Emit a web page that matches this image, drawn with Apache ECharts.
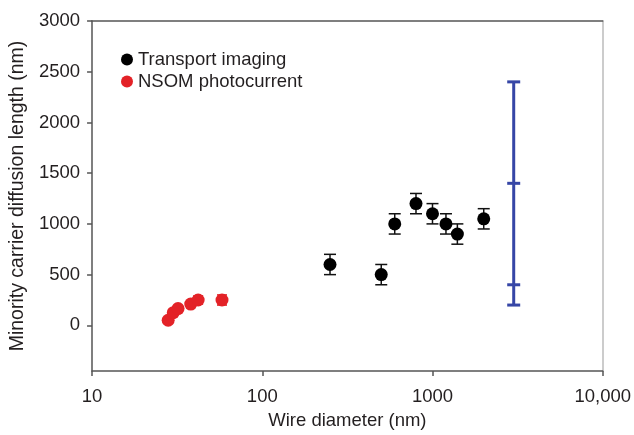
<!DOCTYPE html>
<html lang="en" style="width: 100%; height: 100%">
<head>
  <meta charset="utf-8">
  <script src="https://cdn.jsdelivr.net/npm/echarts@6/dist/echarts.min.js"></script>
</head>
<body style="margin: 0; width: 634px; height: 435px; background: #fff">
  <div id="container" style="width: 634px; height: 435px"></div>
  <script type="text/javascript">

// transport imaging (black)
var transportDiameter = [250, 500, 600, 800, 1000, 1200, 1400, 2000];
var transportLength   = [600, 500, 1000, 1200, 1100, 1000, 900, 1050];
var transportError    = [100, 100, 100, 100, 100, 100, 100, 100];

// NSOM photocurrent (red)
var nsomDiameter = [28, 30, 32, 38, 42, 58];
var nsomLength   = [50, 125, 165, 210, 250, 250];
var nsomError    = [0, 0, 0, 0, 40, 50];

// blue range bar
var rangeDiameter = 3000;
var rangeMarks = [200, 400, 1400, 2400];

var yTicks = [0, 500, 1000, 1500, 2000, 2500, 3000];

var FONT = '"Liberation Sans", Arial, sans-serif';
var TXT = '#231f20';
var AX = '#555';

var dom = document.getElementById('container');
var myChart = echarts.init(dom, null, { renderer: 'canvas' });

function points(xs, ys) {
  return xs.map(function (x, i) { return [x, ys[i]]; });
}
function errData(xs, ys, es) {
  var out = [];
  for (var i = 0; i < xs.length; i++) {
    if (es[i] > 0) out.push([xs[i], ys[i] - es[i], ys[i] + es[i]]);
  }
  return out;
}

function errRender(color, half, width) {
  return function (params, api) {
    var x = api.value(0);
    var lo = api.coord([x, api.value(1)]);
    var hi = api.coord([x, api.value(2)]);
    var st = { stroke: color, lineWidth: width };
    return {
      type: 'group',
      children: [
        { type: 'line', shape: { x1: lo[0], y1: lo[1], x2: hi[0], y2: hi[1] }, style: st },
        { type: 'line', shape: { x1: lo[0] - half, y1: lo[1], x2: lo[0] + half, y2: lo[1] }, style: st },
        { type: 'line', shape: { x1: hi[0] - half, y1: hi[1], x2: hi[0] + half, y2: hi[1] }, style: st }
      ]
    };
  };
}

var rangeData = [[rangeDiameter].concat(rangeMarks)];

var option = {
  animation: false,
  textStyle: { fontFamily: FONT },
  grid: { left: 91, right: 31, top: 21, bottom: 49 },
  legend: {
    left: 116,
    top: 45,
    orient: 'vertical',
    itemGap: 3,
    itemWidth: 12,
    itemHeight: 12,
    data: [
      { name: 'Transport imaging', icon: 'circle' },
      { name: 'NSOM photocurrent', icon: 'circle' }
    ],
    textStyle: { fontSize: 18.5, color: TXT, fontFamily: FONT }
  },
  xAxis: [{
    type: 'log',
    logBase: 10,
    min: 10,
    max: 10000,
    name: 'Wire diameter (nm)',
    nameLocation: 'middle',
    nameGap: 40,
    nameTextStyle: { fontSize: 18.5, color: TXT },
    axisLine: { onZero: false, lineStyle: { color: AX, width: 1.5 } },
    axisTick: { length: 5, lineStyle: { color: AX, width: 1.5 } },
    axisLabel: {
      fontSize: 18.5, color: TXT, margin: 16,
      formatter: function (v) { return v === 10000 ? '10,000' : String(v); }
    },
    splitLine: { show: false },
    minorTick: { show: false }
  }, {
    type: 'log',
    min: 10,
    max: 10000,
    position: 'top',
    axisLine: { onZero: false, lineStyle: { color: AX, width: 1.5 } },
    axisTick: { show: false },
    axisLabel: { show: false },
    splitLine: { show: false }
  }],
  yAxis: [{
    type: 'value',
    min: -450,
    max: 3000,
    name: 'Minority carrier diffusion length (nm)',
    nameLocation: 'middle',
    nameGap: 63,
    nameTextStyle: { fontSize: 19.5, color: TXT },
    axisLine: { show: true, onZero: false, lineStyle: { color: AX, width: 1.5 } },
    axisTick: { show: true, length: 5, customValues: yTicks, lineStyle: { color: AX, width: 1.5 } },
    axisLabel: {
      fontSize: 18.5, color: TXT, margin: 12, customValues: yTicks,
      formatter: function (v) { return String(v); }
    },
    splitLine: { show: false }
  }, {
    type: 'value',
    min: -450,
    max: 3000,
    position: 'right',
    axisLine: { show: true, onZero: false, lineStyle: { color: '#bbb', width: 1.5 } },
    axisTick: { show: false },
    axisLabel: { show: false },
    splitLine: { show: false }
  }],
  series: [
    {
      name: 'transport-err',
      type: 'custom',
      renderItem: errRender('#111', 6, 1.5),
      data: errData(transportDiameter, transportLength, transportError),
      encode: { x: 0, y: [1, 2] },
      z: 1
    },
    {
      name: 'nsom-err',
      type: 'custom',
      renderItem: errRender('#e32227', 5, 1.5),
      data: errData(nsomDiameter, nsomLength, nsomError),
      encode: { x: 0, y: [1, 2] },
      z: 1
    },
    {
      name: 'Transport imaging',
      type: 'scatter',
      symbol: 'circle',
      symbolSize: 13,
      itemStyle: { color: '#000', opacity: 1 },
      data: points(transportDiameter, transportLength),
      z: 3
    },
    {
      name: 'NSOM photocurrent',
      type: 'scatter',
      symbol: 'circle',
      symbolSize: 13,
      itemStyle: { color: '#e32227', opacity: 1 },
      data: points(nsomDiameter, nsomLength),
      z: 3
    },
    {
      name: 'range',
      type: 'custom',
      data: rangeData,
      encode: { x: 0, y: [1, 2, 3, 4] },
      renderItem: function (params, api) {
        var x = api.value(0);
        var st = { stroke: '#3646a6', lineWidth: 3 };
        var pts = [1, 2, 3, 4].map(function (k) { return api.coord([x, api.value(k)]); });
        var kids = [{ type: 'line', shape: { x1: pts[0][0], y1: pts[0][1], x2: pts[3][0], y2: pts[3][1] }, style: st }];
        pts.forEach(function (p) {
          kids.push({ type: 'line', shape: { x1: p[0] - 6.5, y1: p[1], x2: p[0] + 6.5, y2: p[1] }, style: st });
        });
        return { type: 'group', children: kids };
      },
      z: 2
    }
  ]
};

myChart.setOption(option);

  </script>
</body>
</html>
